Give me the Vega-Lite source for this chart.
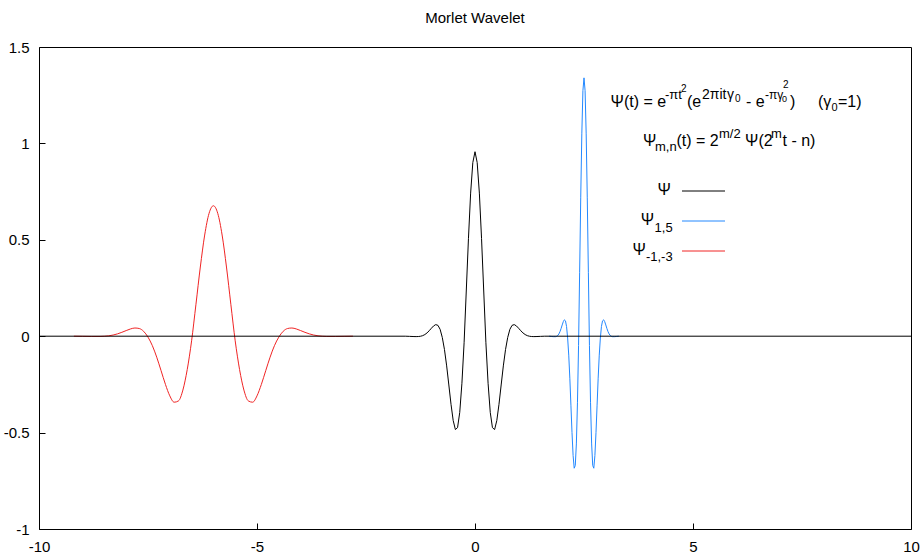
{
  "$schema": "https://vega.github.io/schema/vega-lite/v6.json",
  "width": 872,
  "height": 482,
  "autosize": {"type": "none"},
  "padding": {"left": 39, "top": 47, "right": 9, "bottom": 28},
  "background": "white",
  "title": {"text": "Morlet Wavelet", "font": "Liberation Sans", "fontSize": 15, "fontWeight": "normal", "color": "black", "anchor": "middle", "offset": 14},
  "config": {
    "view": {"stroke": "black", "strokeWidth": 1},
    "axis": {"grid": false, "domain": false, "tickSize": -6, "tickColor": "black", "tickWidth": 1, "labelPadding": 16, "labelFlush": false, "labelOverlap": false, "labelFont": "Liberation Sans", "labelFontSize": 15, "labelColor": "black", "labelExpr": "'' + datum.value"},
    "text": {"font": "Liberation Sans", "color": "black", "baseline": "alphabetic", "align": "left"}
  },
  "datasets": {
    "black": [
      {"t": -10, "v": 0}, {"t": -1.6, "v": 0}, {"t": -1.5, "v": -0.0009}, {"t": -1.4, "v": -0.0018}, {"t": -1.35, "v": -0.0021}, {"t": -1.3, "v": -0.0017}, {"t": -1.25, "v": -0.0003}, {"t": -1.2, "v": 0.0029}, {"t": -1.15, "v": 0.0085}, {"t": -1.1, "v": 0.0171}, {"t": -1.05, "v": 0.0284}, {"t": -1, "v": 0.0413}, {"t": -0.95, "v": 0.0533}, {"t": -0.9, "v": 0.0601}, {"t": -0.85, "v": 0.0563}, {"t": -0.8, "v": 0.0356}, {"t": -0.75, "v": -0.0068}, {"t": -0.7, "v": -0.0695}, {"t": -0.65, "v": -0.154}, {"t": -0.6, "v": -0.253}, {"t": -0.55, "v": -0.3536}, {"t": -0.5, "v": -0.4376}, {"t": -0.45, "v": -0.4842}, {"t": -0.4, "v": -0.4743}, {"t": -0.35, "v": -0.3951}, {"t": -0.3, "v": -0.2442}, {"t": -0.25, "v": -0.034}, {"t": -0.2, "v": 0.2344}, {"t": -0.15, "v": 0.5074}, {"t": -0.1, "v": 0.7421}, {"t": -0.05, "v": 0.9007}, {"t": 0, "v": 0.9568},
      {"t": 0.05, "v": 0.9007}, {"t": 0.1, "v": 0.7421}, {"t": 0.15, "v": 0.5074}, {"t": 0.2, "v": 0.2344}, {"t": 0.25, "v": -0.034}, {"t": 0.3, "v": -0.2442}, {"t": 0.35, "v": -0.3951}, {"t": 0.4, "v": -0.4743}, {"t": 0.45, "v": -0.4842}, {"t": 0.5, "v": -0.4376}, {"t": 0.55, "v": -0.3536}, {"t": 0.6, "v": -0.253}, {"t": 0.65, "v": -0.154}, {"t": 0.7, "v": -0.0695}, {"t": 0.75, "v": -0.0068}, {"t": 0.8, "v": 0.0356}, {"t": 0.85, "v": 0.0563}, {"t": 0.9, "v": 0.0601}, {"t": 0.95, "v": 0.0533}, {"t": 1, "v": 0.0413}, {"t": 1.05, "v": 0.0284}, {"t": 1.1, "v": 0.0171}, {"t": 1.15, "v": 0.0085}, {"t": 1.2, "v": 0.0029}, {"t": 1.25, "v": -0.0003}, {"t": 1.3, "v": -0.0017}, {"t": 1.35, "v": -0.0021}, {"t": 1.4, "v": -0.0018}, {"t": 1.5, "v": -0.0009}, {"t": 1.6, "v": 0}, {"t": 10, "v": 0}
    ],
    "blue": [
      {"t": 1.7, "v": 0}, {"t": 1.75, "v": -0.0013}, {"t": 1.8, "v": -0.0025}, {"t": 1.85, "v": -0.0024}, {"t": 1.875, "v": -0.0004}, {"t": 1.9, "v": 0.0041}, {"t": 1.925, "v": 0.012}, {"t": 1.95, "v": 0.0242}, {"t": 1.975, "v": 0.0402}, {"t": 2.0, "v": 0.0584}, {"t": 2.025, "v": 0.0754}, {"t": 2.05, "v": 0.085}, {"t": 2.075, "v": 0.0796}, {"t": 2.1, "v": 0.0503}, {"t": 2.125, "v": -0.0096}, {"t": 2.15, "v": -0.0983}, {"t": 2.175, "v": -0.2178}, {"t": 2.2, "v": -0.3578}, {"t": 2.225, "v": -0.5001}, {"t": 2.25, "v": -0.6189}, {"t": 2.275, "v": -0.6848}, {"t": 2.3, "v": -0.6708}, {"t": 2.325, "v": -0.5588}, {"t": 2.35, "v": -0.3454}, {"t": 2.375, "v": -0.0481}, {"t": 2.4, "v": 0.3315}, {"t": 2.425, "v": 0.7176}, {"t": 2.45, "v": 1.0495}, {"t": 2.475, "v": 1.2738}, {"t": 2.5, "v": 1.34},
      {"t": 2.525, "v": 1.2738}, {"t": 2.55, "v": 1.0495}, {"t": 2.575, "v": 0.7176}, {"t": 2.6, "v": 0.3315}, {"t": 2.625, "v": -0.0481}, {"t": 2.65, "v": -0.3454}, {"t": 2.675, "v": -0.5588}, {"t": 2.7, "v": -0.6708}, {"t": 2.725, "v": -0.6848}, {"t": 2.75, "v": -0.6189}, {"t": 2.775, "v": -0.5001}, {"t": 2.8, "v": -0.3578}, {"t": 2.825, "v": -0.2178}, {"t": 2.85, "v": -0.0983}, {"t": 2.875, "v": -0.0096}, {"t": 2.9, "v": 0.0503}, {"t": 2.925, "v": 0.0796}, {"t": 2.95, "v": 0.085}, {"t": 2.975, "v": 0.0754}, {"t": 3.0, "v": 0.0584}, {"t": 3.025, "v": 0.0402}, {"t": 3.05, "v": 0.0242}, {"t": 3.075, "v": 0.012}, {"t": 3.1, "v": 0.0041}, {"t": 3.125, "v": -0.0004}, {"t": 3.15, "v": -0.0024}, {"t": 3.2, "v": -0.0025}, {"t": 3.25, "v": -0.0013}, {"t": 3.3, "v": 0}
    ],
    "red": [
      {"t": -9.2, "v": 0}, {"t": -9.0, "v": -0.0006}, {"t": -8.8, "v": -0.0013}, {"t": -8.6, "v": -0.0012}, {"t": -8.5, "v": -0.0002}, {"t": -8.4, "v": 0.002}, {"t": -8.3, "v": 0.006}, {"t": -8.2, "v": 0.0121}, {"t": -8.1, "v": 0.0201}, {"t": -8.0, "v": 0.0292}, {"t": -7.9, "v": 0.0377}, {"t": -7.8, "v": 0.0425}, {"t": -7.7, "v": 0.0398}, {"t": -7.6, "v": 0.0252}, {"t": -7.5, "v": -0.0048}, {"t": -7.4, "v": -0.0491}, {"t": -7.3, "v": -0.1089}, {"t": -7.2, "v": -0.1789}, {"t": -7.1, "v": -0.25}, {"t": -7.0, "v": -0.3094}, {"t": -6.9, "v": -0.3424}, {"t": -6.8, "v": -0.3354}, {"t": -6.7, "v": -0.2794}, {"t": -6.6, "v": -0.1727}, {"t": -6.5, "v": -0.024}, {"t": -6.4, "v": 0.1657}, {"t": -6.3, "v": 0.3588}, {"t": -6.2, "v": 0.5247}, {"t": -6.1, "v": 0.6369}, {"t": -6.0, "v": 0.6766},
      {"t": -5.9, "v": 0.6369}, {"t": -5.8, "v": 0.5247}, {"t": -5.7, "v": 0.3588}, {"t": -5.6, "v": 0.1657}, {"t": -5.5, "v": -0.024}, {"t": -5.4, "v": -0.1727}, {"t": -5.3, "v": -0.2794}, {"t": -5.2, "v": -0.3354}, {"t": -5.1, "v": -0.3424}, {"t": -5.0, "v": -0.3094}, {"t": -4.9, "v": -0.25}, {"t": -4.8, "v": -0.1789}, {"t": -4.7, "v": -0.1089}, {"t": -4.6, "v": -0.0491}, {"t": -4.5, "v": -0.0048}, {"t": -4.4, "v": 0.0252}, {"t": -4.3, "v": 0.0398}, {"t": -4.2, "v": 0.0425}, {"t": -4.1, "v": 0.0377}, {"t": -4.0, "v": 0.0292}, {"t": -3.9, "v": 0.0201}, {"t": -3.8, "v": 0.0121}, {"t": -3.7, "v": 0.006}, {"t": -3.6, "v": 0.002}, {"t": -3.5, "v": -0.0002}, {"t": -3.4, "v": -0.0012}, {"t": -3.2, "v": -0.0013}, {"t": -3.0, "v": -0.0006}, {"t": -2.8, "v": 0}
    ],
    "one": [{}]
  },
  "layer": [
    {
      "data": {"name": "blue"},
      "mark": {"type": "line", "color": "#2288ff", "strokeWidth": 1},
      "encoding": {
        "x": {"field": "t", "type": "quantitative", "scale": {"domain": [-10, 10], "nice": false, "zero": false}, "axis": {"title": null, "values": [-10, -5, 0, 5, 10]}},
        "y": {"field": "v", "type": "quantitative", "scale": {"domain": [-1, 1.5], "nice": false, "zero": false}, "axis": {"title": null, "values": [-1, -0.5, 0, 0.5, 1, 1.5]}}
      }
    },
    {
      "data": {"name": "red"},
      "mark": {"type": "line", "color": "#f02424", "strokeWidth": 1, "interpolate": "monotone"},
      "encoding": {"x": {"field": "t", "type": "quantitative"}, "y": {"field": "v", "type": "quantitative"}}
    },
    {
      "data": {"name": "black"},
      "mark": {"type": "line", "color": "black", "strokeWidth": 1},
      "encoding": {"x": {"field": "t", "type": "quantitative"}, "y": {"field": "v", "type": "quantitative"}}
    },
    {"data": {"name": "one"}, "mark": {"type": "text", "text": "Ψ(t) = e", "fontSize": 16}, "encoding": {"x": {"datum": 3.108}, "y": {"datum": 1.1888}}},
    {"data": {"name": "one"}, "mark": {"type": "text", "text": "-πt", "fontSize": 13}, "encoding": {"x": {"datum": 4.358}, "y": {"datum": 1.2303}}},
    {"data": {"name": "one"}, "mark": {"type": "text", "text": "2", "fontSize": 10}, "encoding": {"x": {"datum": 4.725}, "y": {"datum": 1.2666}}},
    {"data": {"name": "one"}, "mark": {"type": "text", "text": "(e", "fontSize": 16}, "encoding": {"x": {"datum": 4.862}, "y": {"datum": 1.1888}}},
    {"data": {"name": "one"}, "mark": {"type": "text", "text": "2πit", "fontSize": 14}, "encoding": {"x": {"datum": 5.206}, "y": {"datum": 1.2303}}},
    {"data": {"name": "one"}, "mark": {"type": "text", "text": "γ", "fontSize": 14}, "encoding": {"x": {"datum": 5.78}, "y": {"datum": 1.2303}}},
    {"data": {"name": "one"}, "mark": {"type": "text", "text": "0", "fontSize": 10}, "encoding": {"x": {"datum": 5.963}, "y": {"datum": 1.2147}}},
    {"data": {"name": "one"}, "mark": {"type": "text", "text": "- e", "fontSize": 16}, "encoding": {"x": {"datum": 6.216}, "y": {"datum": 1.1888}}},
    {"data": {"name": "one"}, "mark": {"type": "text", "text": "-πγ", "fontSize": 12}, "encoding": {"x": {"datum": 6.651}, "y": {"datum": 1.2303}}},
    {"data": {"name": "one"}, "mark": {"type": "text", "text": "0", "fontSize": 9}, "encoding": {"x": {"datum": 7.04}, "y": {"datum": 1.2147}}},
    {"data": {"name": "one"}, "mark": {"type": "text", "text": "2", "fontSize": 10}, "encoding": {"x": {"datum": 7.064}, "y": {"datum": 1.2874}}},
    {"data": {"name": "one"}, "mark": {"type": "text", "text": ")", "fontSize": 16}, "encoding": {"x": {"datum": 7.225}, "y": {"datum": 1.1888}}},
    {"data": {"name": "one"}, "mark": {"type": "text", "text": "(γ", "fontSize": 16}, "encoding": {"x": {"datum": 7.867}, "y": {"datum": 1.1888}}},
    {"data": {"name": "one"}, "mark": {"type": "text", "text": "0", "fontSize": 11}, "encoding": {"x": {"datum": 8.177}, "y": {"datum": 1.168}}},
    {"data": {"name": "one"}, "mark": {"type": "text", "text": "=1)", "fontSize": 16}, "encoding": {"x": {"datum": 8.326}, "y": {"datum": 1.1888}}},
    {"data": {"name": "one"}, "mark": {"type": "text", "text": "Ψ", "fontSize": 16}, "encoding": {"x": {"datum": 3.853}, "y": {"datum": 0.9865}}},
    {"data": {"name": "one"}, "mark": {"type": "text", "text": "m,n", "fontSize": 13}, "encoding": {"x": {"datum": 4.128}, "y": {"datum": 0.9606}}},
    {"data": {"name": "one"}, "mark": {"type": "text", "text": "(t) = 2", "fontSize": 16}, "encoding": {"x": {"datum": 4.622}, "y": {"datum": 0.9865}}},
    {"data": {"name": "one"}, "mark": {"type": "text", "text": "m/2", "fontSize": 13}, "encoding": {"x": {"datum": 5.596}, "y": {"datum": 1.028}}},
    {"data": {"name": "one"}, "mark": {"type": "text", "text": "Ψ(2", "fontSize": 16}, "encoding": {"x": {"datum": 6.193}, "y": {"datum": 0.9865}}},
    {"data": {"name": "one"}, "mark": {"type": "text", "text": "m", "fontSize": 13}, "encoding": {"x": {"datum": 6.789}, "y": {"datum": 1.028}}},
    {"data": {"name": "one"}, "mark": {"type": "text", "text": "t - n)", "fontSize": 16}, "encoding": {"x": {"datum": 7.053}, "y": {"datum": 0.9865}}},
    {"data": {"name": "one"}, "mark": {"type": "text", "text": "Ψ", "fontSize": 16, "align": "right"}, "encoding": {"x": {"datum": 4.495}, "y": {"datum": 0.7324}}},
    {"data": {"name": "one"}, "mark": {"type": "text", "text": "Ψ", "fontSize": 16, "align": "right"}, "encoding": {"x": {"datum": 4.106}, "y": {"datum": 0.5768}}},
    {"data": {"name": "one"}, "mark": {"type": "text", "text": "1,5", "fontSize": 13, "align": "right"}, "encoding": {"x": {"datum": 4.534}, "y": {"datum": 0.543}}},
    {"data": {"name": "one"}, "mark": {"type": "text", "text": "Ψ", "fontSize": 16, "align": "right"}, "encoding": {"x": {"datum": 3.922}, "y": {"datum": 0.4212}}},
    {"data": {"name": "one"}, "mark": {"type": "text", "text": "-1,-3", "fontSize": 13, "align": "right"}, "encoding": {"x": {"datum": 4.534}, "y": {"datum": 0.3875}}},
    {"data": {"name": "one"}, "mark": {"type": "rule", "color": "black", "strokeWidth": 1}, "encoding": {"x": {"datum": 4.748}, "x2": {"datum": 5.734}, "y": {"datum": 0.7531}}},
    {"data": {"name": "one"}, "mark": {"type": "rule", "color": "#2288ff", "strokeWidth": 1}, "encoding": {"x": {"datum": 4.748}, "x2": {"datum": 5.734}, "y": {"datum": 0.5975}}},
    {"data": {"name": "one"}, "mark": {"type": "rule", "color": "#f02424", "strokeWidth": 1}, "encoding": {"x": {"datum": 4.748}, "x2": {"datum": 5.734}, "y": {"datum": 0.4419}}}
  ]
}
